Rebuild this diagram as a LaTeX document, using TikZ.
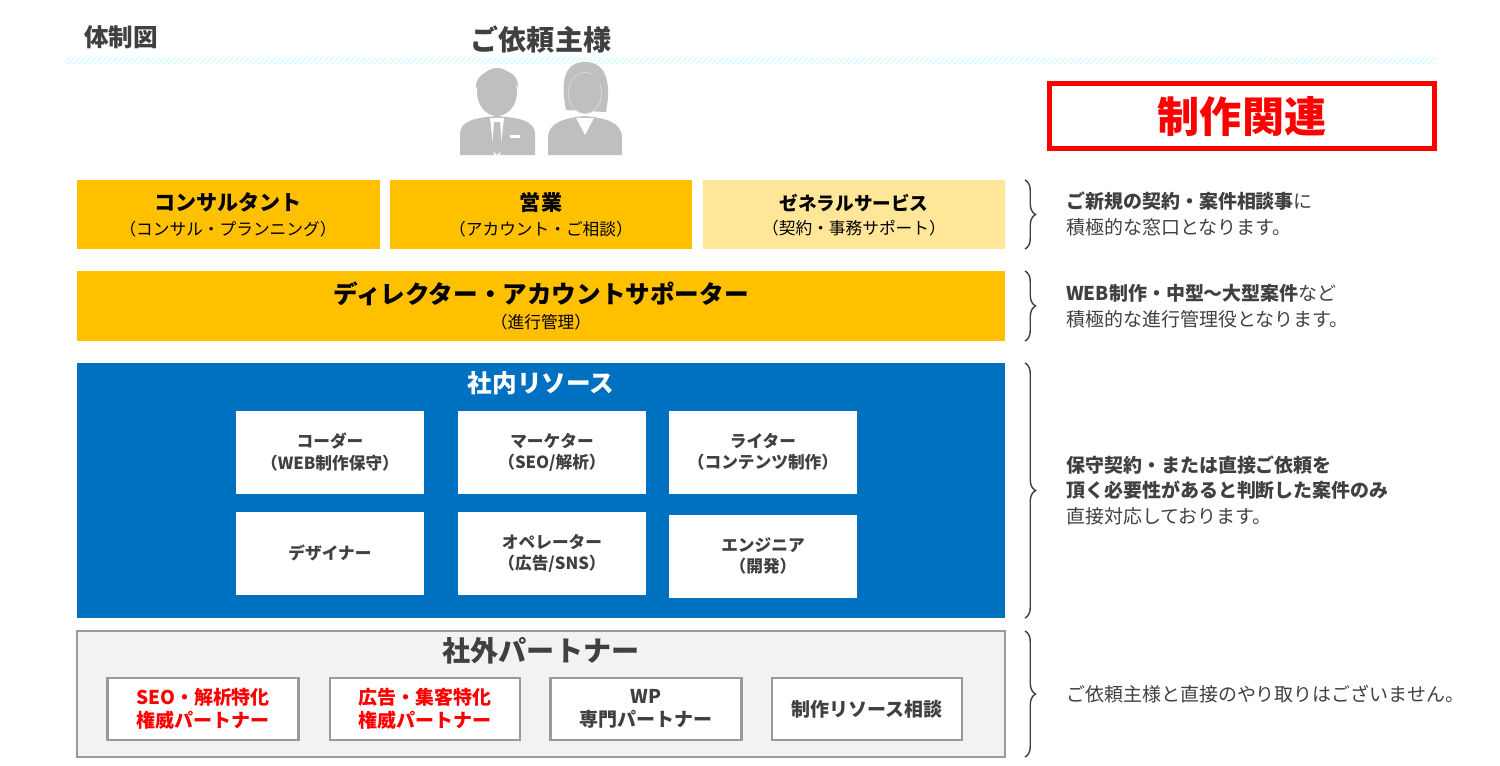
\documentclass[tikz,border=0pt]{standalone}
\usepackage{fontspec}
\setmainfont{Noto Sans CJK JP}
\usetikzlibrary{decorations.pathreplacing,patterns}
\definecolor{gold}{HTML}{FFC000}
\definecolor{lightgold}{HTML}{FFE699}
\definecolor{corpblue}{HTML}{0070C0}
\definecolor{txtgray}{HTML}{404040}
\definecolor{icongray}{HTML}{BFBFBF}
\tikzset{
  rolebox/.style={draw=none, inner sep=0pt, align=center, text=black},
  memberbox/.style={fill=white, draw=none, align=center, font=\fontsize{9.5}{12}\selectfont\bfseries, text=txtgray},
  partnerbox/.style={fill=white, draw=gray!80, line width=1.2pt, align=center, font=\fontsize{10.8}{13}\selectfont\bfseries, text=txtgray},
  brace/.style={decorate, decoration={brace, amplitude=6pt}, draw=txtgray, line width=0.8pt},
  note/.style={anchor=west, align=left, font=\fontsize{10.8}{14.5}\selectfont, text=txtgray},
}
\newcommand{\ttl}[1]{{\fontsize{12}{15}\selectfont\bfseries #1}}
\newcommand{\sub}[1]{{\fontsize{9.5}{12}\selectfont #1}}
\newcommand{\slsh}{/}
\begin{document}
\begin{tikzpicture}[x=0.02cm,y=-0.02cm]
\useasboundingbox (0,0) rectangle (1500,765);

% header
\node[anchor=west, text=txtgray, font=\fontsize{14}{16}\selectfont\bfseries] (title) at (78,37) {体制図};
\node[text=txtgray, font=\fontsize{16}{18}\selectfont\bfseries] (client) at (541,40) {ご依頼主様};
\fill[pattern=north east lines, pattern color=cyan!25] (65,57) rectangle (1435,63);

% client icons
\begin{scope}[fill=icongray]
  % man
  \fill (460,155) -- (460,135) .. controls (460,120) and (475,118) .. (497,116) .. controls (519,118) and (535,120) .. (535,135) -- (535,155) -- cycle;
  \fill[white] (490,118) -- (504,118) -- (500,155) -- (494,155) -- cycle;
  \fill (494,122) -- (500,122) -- (502,150) -- (497,155) -- (492,150) -- cycle;
  \fill[white] (510,135) rectangle (520,138);
  \fill (497,92) ellipse (20 and 24);
  \fill (476,88) .. controls (474,65) and (520,62) .. (518,88) -- (514,80) .. controls (500,82) and (488,78) .. (481,84) -- cycle;
  % woman
  \fill (548,155) -- (548,138) .. controls (548,122) and (565,118) .. (585,116) .. controls (605,118) and (622,122) .. (622,138) -- (622,155) -- cycle;
  \fill[white] (576,118) -- (594,118) -- (585,135) -- cycle;
  \fill (566,110) .. controls (560,80) and (565,62) .. (585,62) .. controls (605,62) and (612,80) .. (606,112) -- cycle;
  \fill[white!40!icongray] (585,93) ellipse (17 and 21);
  \fill (585,93) ellipse (16 and 20);
  \fill (570,88) .. controls (570,72) and (600,68) .. (601,85) .. controls (592,78) and (580,84) .. (570,88) -- cycle;
\end{scope}

% production label
\node[draw=red, line width=2.5pt, text=red,
      font=\fontsize{24}{26}\selectfont\bfseries, minimum width=7.7cm, minimum height=1.3cm] (prod) at (1242,116) {制作関連};

% row 1
\fill[gold] (77,180) rectangle (380,249);
\fill[gold] (390,180) rectangle (692,249);
\fill[lightgold] (703,180) rectangle (1005,249);
\node[rolebox] (consult) at (228,215) {\ttl{コンサルタント}\\[2pt]\sub{（コンサル・プランニング）}};
\node[rolebox] (sales) at (541,215) {\ttl{営業}\\[2pt]\sub{（アカウント・ご相談）}};
\node[rolebox] (general) at (854,215) {{\fontsize{10.6}{15}\selectfont\bfseries ゼネラルサービス}\\[2pt]\sub{（契約・事務サポート）}};

% row 2
\fill[gold] (77,271) rectangle (1005,341);
\node[rolebox] (director) at (541,306) {{\fontsize{14}{16}\selectfont\bfseries ディレクター・アカウントサポーター}\\[2pt]\sub{（進行管理）}};

% in-house
\fill[corpblue] (77,363) rectangle (1005,618);
\node[text=white, font=\fontsize{14}{16}\selectfont\bfseries] (inhouse) at (541,383) {社内リソース};
\foreach \x/\y/\w/\txt in {
  330/452/coder/{コーダー\\（WEB制作保守）},
  552/452/marketer/{マーケター\\（SEO\slsh 解析）},
  763/452/writer/{ライター\\（コンテンツ制作）},
  330/553/designer/{デザイナー},
  552/553/operator/{オペレーター\\（広告\slsh SNS）},
  763/556/engineer/{エンジニア\\（開発）}}
  \node[memberbox, minimum width=3.78cm, minimum height=1.66cm] (\w) at (\x,\y) {\txt};

% partners
\draw[fill=gray!10, draw=gray!80, line width=1.5pt] (77,631) rectangle (1005,757);
\node[text=txtgray, font=\fontsize{16}{18}\selectfont\bfseries] (outside) at (541,651) {社外パートナー};
\node[partnerbox, text=red, minimum width=3.82cm, minimum height=1.24cm] (seo) at (203,709) {SEO・解析特化\\権威パートナー};
\node[partnerbox, text=red, minimum width=3.8cm, minimum height=1.24cm] (ads) at (425,709) {広告・集客特化\\権威パートナー};
\node[partnerbox, minimum width=3.82cm, minimum height=1.24cm] (wp) at (646,709) {WP\\専門パートナー};
\node[partnerbox, minimum width=3.8cm, minimum height=1.24cm] (resource) at (867,709) {制作リソース相談};

% braces
\draw[brace] (1025,180) -- (1025,249);
\draw[brace] (1025,271) -- (1025,341);
\draw[brace] (1025,363) -- (1025,618);
\draw[brace] (1025,631) -- (1025,757);

% notes
\node[note] (note1) at (1060,214) {\textbf{ご新規の契約・案件相談事}に\\積極的な窓口となります。};
\node[note] (note2) at (1060,306) {\textbf{WEB制作・中型〜大型案件}など\\積極的な進行管理役となります。};
\node[note] (note3) at (1060,490) {\textbf{保守契約・または直接ご依頼を}\\\textbf{頂く必要性があると判断した案件のみ}\\直接対応しております。};
\node[note] (note4) at (1060,694) {ご依頼主様と直接のやり取りはございません。};
\end{tikzpicture}
\end{document}
